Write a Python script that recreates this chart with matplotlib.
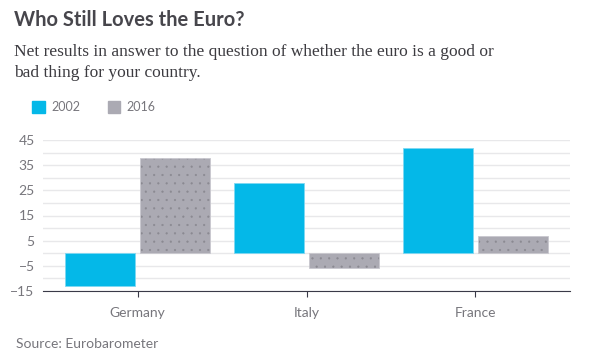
import matplotlib
matplotlib.use("Agg")
import matplotlib.pyplot as plt
import numpy as np

categories = ["Germany", "Italy", "France"]
series_names = ["2002", "2016"]
values_2002 = [-13, 28, 42]
values_2016 = [38, -6, 7]
yticks = [-15, -5, 5, 15, 25, 35, 45]

c2002 = "#04b8e8"
c2016 = "#abaab3"
txt_gray = "#77767c"

plt.rcParams['hatch.linewidth'] = 0.35
fig = plt.figure(figsize=(6.01, 3.6), dpi=100)
ax = fig.add_axes([43/601, (360-290.7)/360, (570-43)/601, (290.7-140.3)/360])

x = np.arange(len(categories))
w = 0.415
off = 0.22
ax.bar(x - off, values_2002, width=w, color=c2002, edgecolor="#7fd8f2", linewidth=0.6, zorder=3)
b2 = ax.bar(x + off, values_2016, width=w, color=c2016, edgecolor="#c9c8cf", linewidth=0.6, zorder=3)
for b in b2:
    b.set_hatch("..")
    b._hatch_color = matplotlib.colors.to_rgba("#8a8991")

ax.set_xlim(-0.56, 2.56)
ax.set_ylim(-15, 45)
ax.set_yticks(yticks)
ax.set_yticks(np.arange(-15, 46, 5), minor=True)
ax.grid(axis="y", which="both", color="#e8e8ea", linewidth=1, zorder=0)
ax.set_xticks(x)
ax.set_xticklabels(categories)
for s in ["top", "right", "left"]:
    ax.spines[s].set_visible(False)
ax.spines["bottom"].set_color("#3a3a48")
ax.spines["bottom"].set_linestyle((0, (2, 1)))
ax.spines["bottom"].set_linewidth(0.8)
ax.tick_params(axis="y", which="both", length=0, labelsize=10, labelcolor=txt_gray, pad=6)
ax.tick_params(axis="x", length=4, color="#3a3a48", labelsize=10, labelcolor=txt_gray, pad=8)
for lab in ax.get_yticklabels() + ax.get_xticklabels():
    lab.set_family("Lato")

fig.text(14/601, 1 - 20/360, "Who Still Loves the Euro?", fontsize=14.5, fontweight="bold",
         color="#47464c", family="Lato", va="center", ha="left")
fig.text(14/601, 1 - 44/360, "Net results in answer to the question of whether the euro is a good or\nbad thing for your country.",
         fontsize=12.5, color="#3c3b40", family="Liberation Serif", va="top", ha="left", linespacing=1.45)

fig.legend(handles=[matplotlib.patches.Patch(color=c2002, label=series_names[0]),
                    matplotlib.patches.Patch(color=c2016, label=series_names[1])],
           loc="center left", bbox_to_anchor=(21/601, 1 - 107/360), ncol=2, frameon=False,
           handlelength=1.0, handleheight=1.1, handletextpad=0.5, columnspacing=2.2,
           prop={"family": "Lato", "size": 9}, labelcolor=txt_gray)

fig.text(16/601, 1 - 344/360, "Source: Eurobarometer", fontsize=10, color=txt_gray,
         family="Lato", va="center", ha="left")

fig.savefig("out.png", dpi=100)
